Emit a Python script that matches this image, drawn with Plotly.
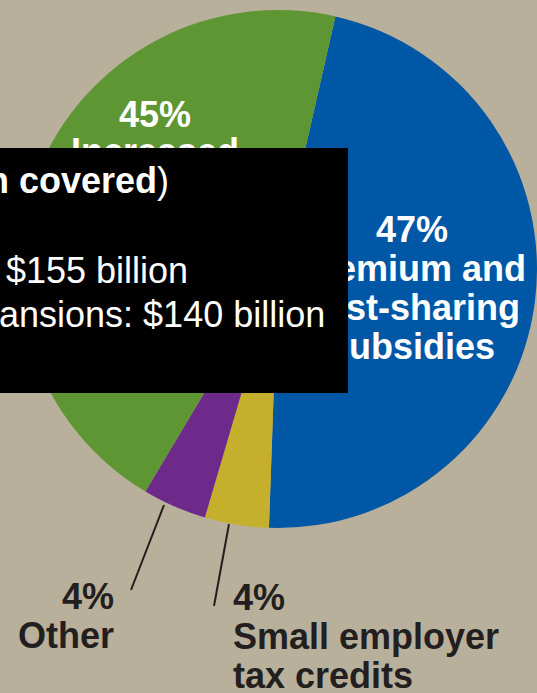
import plotly.graph_objects as go

# Canvas size in pixels
W, H = 537, 693

# Pie slices, listed clockwise from the top
categories = ["Premium and cost-sharing subsidies", "Small employer tax credits", "Other", "Increased"]
shares = [47, 4, 4, 45]
slice_colors = ["#0057A6", "#C4B02C", "#6E2A8B", "#5E9634"]

# Slice caption lines (percent line is built from the share)
blue_caption = ["Premium and", "cost-sharing", "subsidies"]
green_caption = ["Increased"]
other_caption = ["Other"]
employer_caption = ["Small employer", "tax credits"]

# Cost figures shown in the black panel
panel_costs = [155, 140]
panel_prefixes = ["", "ansions: "]

FONT = "Liberation Sans, Arial, Helvetica, sans-serif"
BG = "#B8B09A"
DARK = "#231F20"
WHITE = "#FFFFFF"


def px_x(x):
    return x / W


def px_y(y):
    return 1 - y / H


def line_text(text, x, baseline, size, color, anchor):
    return dict(
        text=text, x=px_x(x), y=px_y(baseline - 0.3465 * size),
        xref="paper", yref="paper", xanchor=anchor, yanchor="middle",
        showarrow=False, borderpad=0,
        font=dict(family=FONT, size=size, color=color),
    )


def pct(v):
    return f"<b>{v}%</b>"


# Pie geometry (pixels): centre and radius
cx, cy, r = 278, 269, 259

fig = go.Figure(go.Pie(
    labels=categories,
    values=shares,
    marker=dict(colors=slice_colors, line=dict(width=0)),
    sort=False,
    direction="clockwise",
    rotation=12.8,
    textinfo="none",
    hoverinfo="label+percent",
    domain=dict(x=[px_x(cx - r), px_x(cx + r)],
                y=[px_y(cy + r), px_y(cy - r)]),
))

ann = []
S = 36
# captions sitting under the panel
ann.append(line_text(pct(shares[3]), 155, 127, S, WHITE, "center"))
for i, t in enumerate(green_caption):
    ann.append(line_text(f"<b>{t}</b>", 155, 164 + 38 * i, S, WHITE, "center"))
ann.append(line_text(pct(shares[0]), 412, 242, S, WHITE, "center"))
for i, t in enumerate(blue_caption):
    ann.append(line_text(f"<b>{t}</b>", 412, 281 + 39 * i, S, WHITE, "center"))

# black panel
ann.append(dict(
    text=" ", x=0, y=px_y(148), xref="paper", yref="paper",
    xanchor="left", yanchor="top", showarrow=False,
    width=348, height=245, bgcolor="#000000", borderpad=0, borderwidth=0,
))
ann.append(line_text("<b>n covered</b>)", 170, 193, 36, WHITE, "right"))
ann.append(line_text(f"{panel_prefixes[0]}${panel_costs[0]} billion", 189, 283, 36, WHITE, "right"))
ann.append(line_text(f"{panel_prefixes[1]}${panel_costs[1]} billion", 326, 327, 36, WHITE, "right"))

# outside captions
ann.append(line_text(pct(shares[2]), 115, 609, S, DARK, "right"))
for i, t in enumerate(other_caption):
    ann.append(line_text(f"<b>{t}</b>", 115, 648 + 39 * i, S, DARK, "right"))
ann.append(line_text(pct(shares[1]), 232, 610, S, DARK, "left"))
for i, t in enumerate(employer_caption):
    ann.append(line_text(f"<b>{t}</b>", 232, 649 + 39 * i, S, DARK, "left"))

# leader lines from the small slices to their captions
leaders = [((164, 505), (131, 590)), ((229, 524), (214, 606))]
shapes = [
    dict(type="line", xref="paper", yref="paper",
         x0=px_x(a[0]), y0=px_y(a[1]), x1=px_x(b[0]), y1=px_y(b[1]),
         line=dict(color=DARK, width=2))
    for a, b in leaders
]

fig.update_layout(
    width=W, height=H,
    margin=dict(l=0, r=0, t=0, b=0),
    paper_bgcolor=BG, plot_bgcolor=BG,
    showlegend=False,
    annotations=ann,
    shapes=shapes,
)

fig.write_html("out.html")
